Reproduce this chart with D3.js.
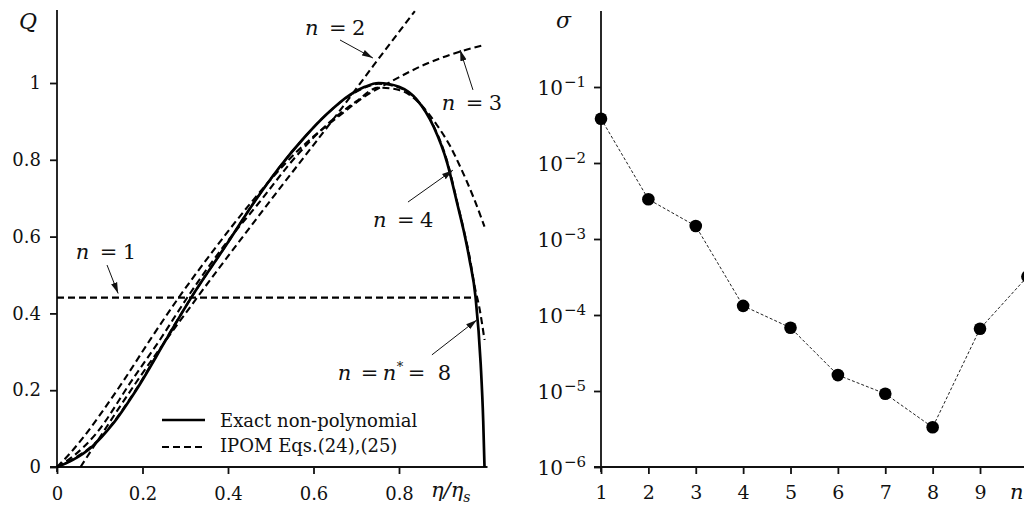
<!DOCTYPE html>
<html>
<head>
<meta charset="utf-8">
<script src="https://cdn.jsdelivr.net/npm/d3@7"></script>
<style>
  html, body { margin: 0; padding: 0; background: #fff; }
  svg { display: block; }
  text { font-family: "DejaVu Serif", "Liberation Serif", serif; fill: #111; }
</style>
</head>
<body>
<script>
// ---- left panel: Q(eta/eta_s) ----
var exactEta = [0, 0.036, 0.082, 0.129, 0.185, 0.257, 0.315, 0.40, 0.46, 0.52, 0.58, 0.63, 0.686, 0.72, 0.752, 0.80, 0.842, 0.881, 0.913, 0.936, 0.951, 0.965, 0.979, 0.991, 0.997, 1.0];
var exactQ   = [0, 0.018, 0.053, 0.11, 0.2, 0.335, 0.443, 0.585, 0.6875, 0.78, 0.86, 0.918, 0.97, 0.99, 1.0, 0.99, 0.956, 0.886, 0.791, 0.687, 0.617, 0.54, 0.443, 0.27, 0.12, 0];

var n1Eta = [0, 0.983];
var n1Q   = [0.441, 0.441];

var n2Eta = [0.055, 0.09, 0.185, 0.327, 0.5, 0.663, 0.74, 0.837];
var n2Q   = [0, 0.06, 0.22, 0.44, 0.695, 0.93, 1.045, 1.187];

var n3Eta = [0, 0.03, 0.06, 0.1, 0.157, 0.22, 0.284, 0.37, 0.455, 0.56, 0.663, 0.72, 0.78, 0.86, 0.94, 1.0];
var n3Q   = [0, 0.035, 0.075, 0.135, 0.227, 0.335, 0.44, 0.57, 0.69, 0.82, 0.917, 0.965, 1.003, 1.048, 1.081, 1.099];

var n4Eta = [0, 0.04, 0.09, 0.176, 0.24, 0.304, 0.39, 0.472, 0.56, 0.64, 0.70, 0.752, 0.80, 0.85, 0.889, 0.92, 0.944, 0.975, 1.0];
var n4Q   = [0, 0.03, 0.085, 0.227, 0.33, 0.44, 0.575, 0.6875, 0.81, 0.9, 0.952, 0.988, 0.982, 0.945, 0.89, 0.835, 0.78, 0.70, 0.626];

var n8Eta = [0, 0.036, 0.082, 0.129, 0.185, 0.257, 0.315, 0.40, 0.46, 0.52, 0.58, 0.63, 0.686, 0.72, 0.752, 0.80, 0.842, 0.881, 0.913, 0.936, 0.951, 0.965, 0.977, 0.988, 1.0];
var n8Q   = [0, 0.02, 0.055, 0.112, 0.202, 0.337, 0.443, 0.585, 0.688, 0.78, 0.86, 0.918, 0.968, 0.988, 0.998, 0.988, 0.956, 0.888, 0.795, 0.69, 0.62, 0.548, 0.47, 0.415, 0.331];

var xTicksLeft = [0, 0.2, 0.4, 0.6, 0.8];
var yTicksLeft = [0, 0.2, 0.4, 0.6, 0.8, 1];

// ---- right panel: sigma(n) ----
var nValues = [1, 2, 3, 4, 5, 6, 7, 8, 9, 10];
var sigmaValues = [0.0383, 0.00333, 0.00148, 1.32e-4, 6.8e-5, 1.62e-5, 9.2e-6, 3.33e-6, 6.6e-5, 3.2e-4];
var xTicksRight = [1, 2, 3, 4, 5, 6, 7, 8, 9];
var yExpRight = [-6, -5, -4, -3, -2, -1];

var W = 1024, H = 509;
var svg = d3.select('body').append('svg').attr('width', W).attr('height', H);

var defs = svg.append('defs');
defs.append('marker')
  .attr('id', 'arrow')
  .attr('markerUnits', 'userSpaceOnUse')
  .attr('markerWidth', 12).attr('markerHeight', 8)
  .attr('refX', 11).attr('refY', 4)
  .attr('orient', 'auto')
  .append('path').attr('d', 'M0,0.8 L11,4 L0,7.2 z').attr('fill', '#111');

var xL = d3.scaleLinear().domain([0, 1]).range([57, 484.5]);
var yL = d3.scaleLinear().domain([0, 1]).range([467, 83]);

var left = svg.append('g');

// axes
var gx = left.append('g').attr('transform', 'translate(0,' + yL(0) + ')')
  .call(d3.axisBottom(xL).tickValues(xTicksLeft).tickSize(7).tickPadding(13).tickFormat(d3.format('~g')));
var gy = left.append('g').attr('transform', 'translate(' + xL(0) + ',0)')
  .call(d3.axisLeft(yL).tickValues(yTicksLeft).tickSize(7).tickPadding(9).tickFormat(d3.format('~g')));
[gx, gy].forEach(function(g) {
  g.select('.domain').remove();
  g.selectAll('.tick line').attr('stroke', '#111').attr('stroke-width', 1.8);
  g.selectAll('.tick text').style('font-size', '18px').attr('fill', '#111')
    .style('font-family', '"DejaVu Serif", serif');
});
left.append('line').attr('x1', xL(0) - 7).attr('x2', xL(1) + 3).attr('y1', yL(0)).attr('y2', yL(0))
  .attr('stroke', '#111').attr('stroke-width', 1.8);
left.append('line').attr('x1', xL(0)).attr('x2', xL(0)).attr('y1', yL(0) + 5).attr('y2', yL(1.19))
  .attr('stroke', '#111').attr('stroke-width', 1.8);

var line = d3.line().x(function(d) { return xL(d[0]); }).y(function(d) { return yL(d[1]); })
  .curve(d3.curveMonotoneX);

var dashedSeries = [[n1Eta, n1Q], [n2Eta, n2Q], [n3Eta, n3Q], [n4Eta, n4Q], [n8Eta, n8Q]];

left.append('path').datum(d3.zip(exactEta, exactQ))
  .attr('d', line).attr('fill', 'none').attr('stroke', '#000').attr('stroke-width', 2.7);

left.selectAll('path.ipom').data(dashedSeries).enter().append('path')
  .attr('class', 'ipom')
  .attr('d', function(s) { return line(d3.zip(s[0], s[1])); })
  .attr('fill', 'none').attr('stroke', '#000').attr('stroke-width', 2.1)
  .attr('stroke-dasharray', '7,4');

function mathLabel(g, x, y, parts) {
  var t = g.append('text').attr('y', y).style('font-size', '21px');
  parts.forEach(function(p) {
    var ts = t.append('tspan').attr('x', x + p.dx).text(p.t);
    if (p.it) ts.style('font-style', 'italic');
    if (p.sup) ts.attr('dy', -9).style('font-size', '13px');
    if (p.down) ts.attr('dy', 9);
  });
  return t;
}

// annotation labels: label position, arrow start and arrow tip, in data units
var annotations = [
  {label: '2', at: [0.58, 1.125], from: [0.662, 1.112], to: [0.739, 1.065]},
  {label: '3', at: [0.90, 0.93], from: [0.973, 0.982], to: [0.943, 1.086]},
  {label: '4', at: [0.739, 0.625], from: [0.821, 0.69], to: [0.926, 0.773]},
  {label: '1', at: [0.044, 0.542], from: [0.117, 0.526], to: [0.143, 0.452]},
  {label: '8', at: [0.657, 0.227], from: [0.877, 0.292], to: [0.982, 0.383]}
];

annotations.forEach(function(a) {
  var x = xL(a.at[0]), y = yL(a.at[1]);
  if (a.label === '8') {
    mathLabel(left, x, y, [
      {t: 'n', it: true, dx: 0}, {t: '=', dx: 23}, {t: 'n', it: true, dx: 45},
      {t: '*', sup: true, dx: 59}, {t: '=', dx: 70, down: true}, {t: '8', dx: 100}
    ]);
  } else {
    mathLabel(left, x, y, [{t: 'n', it: true, dx: 0}, {t: '=', dx: 24}, {t: a.label, dx: 47}]);
  }
  left.append('line')
    .attr('x1', xL(a.from[0])).attr('y1', yL(a.from[1]))
    .attr('x2', xL(a.to[0])).attr('y2', yL(a.to[1]))
    .attr('stroke', '#111').attr('stroke-width', 1)
    .attr('marker-end', 'url(#arrow)');
});

// legend
var legend = left.append('g');
legend.append('line').attr('x1', 162).attr('x2', 205).attr('y1', 420).attr('y2', 420)
  .attr('stroke', '#000').attr('stroke-width', 2.7);
legend.append('text').attr('x', 220).attr('y', 427).style('font-size', '18px').text('Exact non-polynomial');
legend.append('line').attr('x1', 162).attr('x2', 205).attr('y1', 447).attr('y2', 447)
  .attr('stroke', '#000').attr('stroke-width', 2.1).attr('stroke-dasharray', '7,4');
legend.append('text').attr('x', 220).attr('y', 452).style('font-size', '18px').text('IPOM Eqs.(24),(25)');

// axis titles
left.append('text').attr('x', 19).attr('y', 29).style('font-size', '22px').style('font-style', 'italic').text('Q');
var xt = left.append('text').attr('x', 431).attr('y', 497).style('font-size', '21px').style('font-style', 'italic');
xt.append('tspan').text('η/η');
xt.append('tspan').attr('dy', 5).style('font-size', '14px').text('s');

// ---- right panel ----
var xR = d3.scaleLinear().domain([1, 10]).range([601, 1027.4]);
var yR = d3.scaleLog().domain([1e-6, 1]).range([467, 11]);
var right = svg.append('g');

var gxr = right.append('g').attr('transform', 'translate(0,' + yR(1e-6) + ')')
  .call(d3.axisBottom(xR).tickValues(xTicksRight).tickSize(7).tickPadding(12).tickFormat(d3.format('d')));
var yTickVals = yExpRight.map(function(e) { return Math.pow(10, e); });
var gyr = right.append('g').attr('transform', 'translate(' + xR(1) + ',0)')
  .call(d3.axisLeft(yR).tickValues(yTickVals).tickSize(7).tickFormat(''));
[gxr, gyr].forEach(function(g) {
  g.select('.domain').remove();
  g.selectAll('.tick line').attr('stroke', '#111').attr('stroke-width', 1.8);
  g.selectAll('.tick text').style('font-size', '19px').attr('fill', '#111')
    .style('font-family', '"DejaVu Serif", serif');
});
right.append('line').attr('x1', xR(1) - 7).attr('x2', W).attr('y1', yR(1e-6)).attr('y2', yR(1e-6))
  .attr('stroke', '#111').attr('stroke-width', 1.8);
right.append('line').attr('x1', xR(1)).attr('x2', xR(1)).attr('y1', yR(1e-6) + 5).attr('y2', yR(1))
  .attr('stroke', '#111').attr('stroke-width', 1.8);

yExpRight.forEach(function(e) {
  var t = right.append('text').attr('x', 586).attr('y', yR(Math.pow(10, e)) + 8)
    .attr('text-anchor', 'end').style('font-size', '20px');
  t.append('tspan').text('10');
  t.append('tspan').attr('dx', 1).attr('dy', -8).style('font-size', '15px').text('\u2212' + (-e));
});

right.append('path').datum(d3.zip(nValues, sigmaValues))
  .attr('d', d3.line().x(function(d) { return xR(d[0]); }).y(function(d) { return yR(d[1]); }))
  .attr('fill', 'none').attr('stroke', '#222').attr('stroke-width', 1).attr('stroke-dasharray', '3,2');

right.selectAll('circle').data(d3.zip(nValues, sigmaValues)).enter().append('circle')
  .attr('cx', function(d) { return xR(d[0]); })
  .attr('cy', function(d) { return yR(d[1]); })
  .attr('r', 6.3).attr('fill', '#000');

right.append('text').attr('x', 556).attr('y', 28).style('font-size', '22px').style('font-style', 'italic').text('σ');
right.append('text').attr('x', 1010).attr('y', 499).style('font-size', '21px').style('font-style', 'italic').text('n');
</script>
</body>
</html>
